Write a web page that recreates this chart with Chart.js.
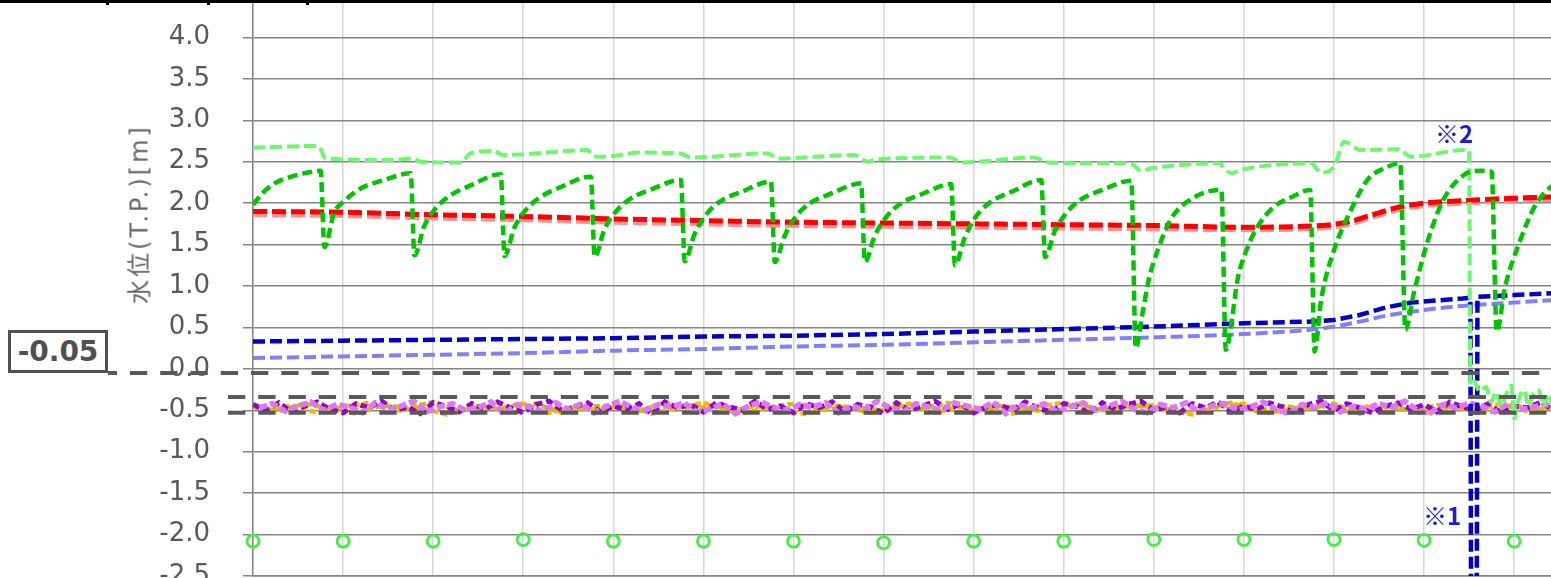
<!DOCTYPE html>
<html><head><meta charset="utf-8">
<script src="https://cdn.jsdelivr.net/npm/chart.js"></script>
<style>
html,body{margin:0;padding:0;background:#fff;overflow:hidden;width:1551px;height:578px;}
#wrap{position:relative;width:1551px;height:578px;overflow:hidden;}
#c{position:absolute;left:0;top:-24px;}
.topbar{position:absolute;left:0;top:0;width:1551px;height:3px;background:#000;z-index:3}
.tick{position:absolute;top:0;width:3px;height:5px;background:#000;z-index:3}
#ytitle{position:absolute;left:137px;top:214px;transform:translate(-50%,-50%) rotate(-90deg);font:24px "DejaVu Sans","Noto Sans CJK JP";letter-spacing:3px;color:#666;white-space:nowrap;z-index:2}
#refbox{position:absolute;left:8px;top:330px;width:94px;height:37px;border:3px solid #505050;font:bold 28px "DejaVu Sans";color:#505050;text-align:center;line-height:37px;background:#fff;z-index:2}
.note{position:absolute;font:bold 24px "Noto Sans CJK JP";line-height:1;color:#1a1ae6;z-index:2}
</style></head>
<body>
<div id="wrap">
<canvas id="c" width="1613" height="640"></canvas>
<div class="topbar"></div><div class="tick" style="left:106px"></div><div class="tick" style="left:207px"></div><div class="tick" style="left:306px"></div>
<div id="ytitle">水位(T.P.)[m]</div>
<div id="refbox">-0.05</div>
<div class="note" style="left:1435px;top:121px">※2</div>
<div class="note" style="left:1423px;top:503px">※1</div>
</div>
<script>
// ---- data (x in days, gridline every 7 days) ----
const greenDays = [0,0.8,1.8,3.0,4.3,5.25,
 5.55,6.3,7.2,8.4,10.2,12.25,
 12.55,13.3,14.1,15.2,17.0,19.25,
 19.55,20.3,21.1,22.2,24.0,26.25,
 26.55,27.3,28.1,29.2,31.0,33.25,
 33.55,34.3,35.1,36.2,38.0,40.25,
 40.55,41.3,42.1,43.2,45.0,47.25,
 47.55,48.3,49.1,50.2,52.0,54.25,
 54.55,55.3,56.1,57.2,59.0,61.25,
 61.55,62.3,63.1,64.2,66.0,68.25,
 68.6,69.1,69.6,70.3,71.3,72.8,75.25,
 75.6,76.1,76.5,77.1,78.0,79.3,80.8,82.15,
 82.5,83.0,84.0,85.3,86.6,87.9,89.15,
 89.55,90.2,91.3,92.5,94.1,95.4,96.25,
 96.65,97.3,98.4,99.6,100.9,102.0];
const greenLevel = [1.98,2.13,2.25,2.32,2.37,2.39,
 1.47,1.88,2.04,2.18,2.28,2.36,
 1.37,1.72,1.92,2.08,2.22,2.35,
 1.36,1.70,1.90,2.06,2.20,2.32,
 1.35,1.68,1.88,2.04,2.17,2.28,
 1.30,1.62,1.84,2.01,2.14,2.26,
 1.29,1.60,1.82,1.99,2.12,2.24,
 1.29,1.60,1.81,1.98,2.11,2.23,
 1.25,1.58,1.82,2.00,2.14,2.28,
 1.35,1.66,1.86,2.03,2.16,2.27,
 0.25,0.65,1.07,1.43,1.80,2.04,2.16,
 0.23,0.63,1.07,1.39,1.70,1.95,2.08,2.16,
 0.21,0.83,1.43,1.91,2.28,2.42,2.48,
 0.47,0.91,1.55,2.04,2.34,2.39,2.38,
 0.45,0.99,1.52,1.96,2.20,2.27];

const lightGreenDays = [0,4.8,5.2,5.6,10.7,12.4,13.0,16.1,16.9,18.7,19.4,21.0,26.0,26.4,27.2,30.1,33.2,34.0,40.0,40.8,46.7,47.8,48.5,54.2,55.0,60.7,61.8,65.9,68.2,69.0,69.8,75.0,76.0,77.0,82.2,83.0,84.0,84.8,86.1,89.0,90.0,94.1,94.5,
 94.6,94.9,95.3,95.8,96.2,96.6,97.0,97.4,97.8,98.0,98.4,98.8,99.1,99.5,99.9,100.3,100.6,101.0,101.7];
const lightGreenLevel = [2.67,2.69,2.67,2.54,2.52,2.54,2.50,2.49,2.60,2.63,2.58,2.59,2.64,2.57,2.56,2.61,2.60,2.55,2.60,2.54,2.58,2.50,2.53,2.55,2.49,2.55,2.49,2.48,2.48,2.39,2.42,2.48,2.36,2.41,2.48,2.37,2.44,2.74,2.64,2.65,2.56,2.64,2.63,
 -0.20,-0.15,-0.27,-0.22,-0.40,-0.28,-0.45,-0.30,-0.20,-0.60,-0.35,-0.26,-0.45,-0.30,-0.26,-0.45,-0.30,-0.42,-0.35];

const redDays = [0,7,14,21,28,35,42,49,56,63,70,77,83,85,87,89,91,94,98,102];
const redLevel = [1.90,1.89,1.86,1.84,1.81,1.79,1.77,1.76,1.75,1.74,1.73,1.71,1.73,1.77,1.86,1.95,2.00,2.03,2.06,2.08];
const pinkLevel = [1.86,1.85,1.82,1.80,1.77,1.75,1.73,1.72,1.71,1.70,1.69,1.68,1.70,1.74,1.83,1.92,1.97,2.00,2.03,2.05];

const blueDays = [0,7,14,21,28,35,42,49,56,63,70,77,82,84,86,88,90,94,94.6,94.7,95.05,95.15,98,102];
const blueLevel = [0.33,0.34,0.35,0.36,0.37,0.39,0.40,0.42,0.45,0.48,0.51,0.55,0.57,0.59,0.65,0.74,0.80,0.85,0.86,-6,-6,0.87,0.89,0.92];

const lightBlueDays = [0,7,14,21,28,35,42,49,56,63,70,77,82,84,86,88,91,94,98,102];
const lightBlueLevel = [0.13,0.15,0.17,0.19,0.22,0.24,0.27,0.29,0.32,0.35,0.38,0.42,0.47,0.51,0.57,0.64,0.71,0.76,0.80,0.84];

const circleDays = [0,7,14,21,28,35,42,49,56,63,70,77,84,91,98];
const circleLevel = [-2.08,-2.08,-2.08,-2.06,-2.08,-2.08,-2.08,-2.10,-2.08,-2.08,-2.06,-2.06,-2.06,-2.07,-2.08];

const purpleLevel = [-0.43,-0.50,-0.41,-0.52,-0.45,-0.40,-0.49,-0.53,-0.42,-0.47,
 -0.39,-0.50,-0.46,-0.54,-0.41,-0.45,-0.52,-0.42,-0.49,-0.40,
 -0.47,-0.53,-0.43,-0.39,-0.50,-0.46,-0.41,-0.52,-0.45,-0.49,
 -0.42,-0.54,-0.40,-0.47,-0.43,-0.52,-0.41,-0.46,-0.50,-0.39,
 -0.49,-0.45,-0.53,-0.42,-0.47,-0.40,-0.52,-0.43,-0.46,-0.54,
 -0.41,-0.50,-0.45,-0.39,-0.49,-0.42,-0.53,-0.46,-0.43,-0.50,
 -0.40,-0.47,-0.52,-0.42,-0.45,-0.54,-0.41,-0.49,-0.43,-0.39,
 -0.50,-0.46,-0.53,-0.42,-0.47,-0.40,-0.52,-0.45,-0.49,-0.41,
 -0.46,-0.54,-0.43,-0.39,-0.50,-0.42,-0.47,-0.53,-0.45,-0.41,
 -0.49,-0.43,-0.52,-0.40,-0.46,-0.50,-0.42,-0.54,-0.45,-0.47,
 -0.41,-0.49];
const violetLevel = [-0.47,-0.42,-0.51,-0.45,-0.40,-0.50,-0.43,-0.46,-0.53,-0.41,
 -0.49,-0.45,-0.39,-0.52,-0.46,-0.42,-0.50,-0.47,-0.40,-0.54,
 -0.43,-0.46,-0.52,-0.41,-0.49,-0.42,-0.53,-0.45,-0.39,-0.47,
 -0.50,-0.43,-0.46,-0.41,-0.52,-0.49,-0.42,-0.54,-0.45,-0.40,
 -0.47,-0.50,-0.43,-0.46,-0.41,-0.53,-0.45,-0.49,-0.39,-0.47,
 -0.52,-0.42,-0.46,-0.50,-0.41,-0.45,-0.49,-0.40,-0.54,-0.43,
 -0.47,-0.42,-0.52,-0.46,-0.41,-0.50,-0.45,-0.39,-0.49,-0.53,
 -0.43,-0.47,-0.41,-0.52,-0.45,-0.42,-0.50,-0.46,-0.40,-0.49,
 -0.54,-0.43,-0.47,-0.41,-0.52,-0.45,-0.49,-0.42,-0.46,-0.39,
 -0.50,-0.53,-0.43,-0.47,-0.41,-0.45,-0.52,-0.42,-0.49,-0.46,
 -0.43,-0.50];
const yellowLevel = [-0.46,-0.51,-0.42,-0.48,-0.54,-0.44,-0.47,-0.40,-0.51,-0.45,
 -0.50,-0.42,-0.53,-0.46,-0.44,-0.51,-0.41,-0.48,-0.45,-0.54,
 -0.47,-0.42,-0.50,-0.46,-0.53,-0.44,-0.48,-0.41,-0.51,-0.45,
 -0.47,-0.54,-0.42,-0.50,-0.46,-0.44,-0.53,-0.47,-0.41,-0.51,
 -0.45,-0.48,-0.42,-0.54,-0.46,-0.50,-0.44,-0.47,-0.53,-0.45,
 -0.48];
const orangeLevel = [-0.50,-0.44,-0.53,-0.46,-0.41,-0.51,-0.47,-0.55,-0.45,-0.48,
 -0.42,-0.53,-0.46,-0.50,-0.44,-0.54,-0.47,-0.41,-0.51,-0.45,
 -0.48,-0.55,-0.44,-0.47,-0.50,-0.42,-0.53,-0.46,-0.48,-0.54,
 -0.45,-0.41,-0.51,-0.47,-0.44,-0.50,-0.55,-0.46,-0.42,-0.53,
 -0.48,-0.45,-0.51,-0.44,-0.47,-0.54,-0.46,-0.50,-0.42,-0.51,
 -0.47];

const refLevels = [-0.05, -0.34, -0.53];
const yTicksMin = -2.5, yTicksMax = 4.5, yTickStep = 0.5;

// ---- build ----
const pts = (xs, ys) => ys.map((v, i) => ({x: xs[i], y: v}));
const sampled = (ys, start, step) => ys.map((v, i) => ({x: start + i * step, y: v}));

function lineDs(data, color, width, dash, order, extra) {
  return Object.assign({data, borderColor: color, borderWidth: width, borderDash: dash,
    pointRadius: 0, fill: false, cubicInterpolationMode: 'monotone', order, borderCapStyle: 'butt'}, extra || {});
}

const refLinesPlugin = {
  id: 'refLines',
  afterDatasetsDraw(chart) {
    const ctx = chart.ctx, ys = chart.scales.y;
    const startX = [108, 228, 228], offs = [8.3, 0, 0];
    ctx.save();
    ctx.strokeStyle = '#595959';
    ctx.lineWidth = 4;
    ctx.setLineDash([17.3, 12.96]);
    refLevels.forEach((lv, i) => {
      const py = ys.getPixelForValue(lv);
      ctx.lineDashOffset = offs[i];
      ctx.beginPath(); ctx.moveTo(startX[i], py); ctx.lineTo(chart.width, py); ctx.stroke();
    });
    ctx.restore();
  }
};

new Chart(document.getElementById('c'), {
  type: 'line',
  data: { datasets: [
    lineDs(pts(circleDays, circleLevel), '#44ee44', 0, [], 0, {showLine: false, pointRadius: 6, pointBorderWidth: 2.8, pointBorderColor: '#44ee44', pointBackgroundColor: 'rgba(255,255,255,0)', clip: false}),
    lineDs(pts(greenDays, greenLevel), '#00c400', 4.5, [10, 5], 1),
    lineDs(pts(lightGreenDays, lightGreenLevel), '#6cfa6c', 4, [12, 5], 2),
    lineDs(pts(blueDays, blueLevel), '#0000c8', 4.5, [12, 5], 3, {cubicInterpolationMode: 'default', tension: 0}),
    lineDs(pts(redDays, redLevel), '#ff0000', 5, [14, 5], 4),
    lineDs(pts(lightBlueDays, lightBlueLevel), '#8080ff', 4, [12, 5], 5),
    lineDs(pts(redDays, pinkLevel), '#ff9090', 5, [14, 5], 6),
    lineDs(sampled(violetLevel, 0.5, 1), '#dc78f4', 5.5, [8, 3], 7, {cubicInterpolationMode: 'default', tension: 0}),
    lineDs(sampled(purpleLevel, 0, 1), '#9400cc', 5, [7, 4], 8, {cubicInterpolationMode: 'default', tension: 0}),
    lineDs(sampled(yellowLevel, 0, 2), '#c8c000', 4.5, [6, 3], 9, {cubicInterpolationMode: 'default', tension: 0}),
    lineDs(sampled(orangeLevel, 1, 2), '#ffb400', 4.5, [6, 3], 10, {cubicInterpolationMode: 'default', tension: 0})
  ]},
  options: {
    responsive: false, animation: false, devicePixelRatio: 1,
    layout: {padding: {top: 20, left: 0, right: 0, bottom: 0}},
    plugins: {legend: {display: false}, tooltip: {enabled: false}},
    scales: {
      x: {type: 'linear', min: 0, max: 105,
        ticks: {display: false, stepSize: 7},
        grid: {color: '#d6d6d6', lineWidth: 1.5, drawTicks: false, tickLength: 0},
        border: {display: true, color: '#858585', width: 1.5},
        afterFit(s) { s.height = 40; s.paddingLeft = 0; s.paddingRight = 0; s.paddingTop = 0; s.paddingBottom = 0; }},
      y: {type: 'linear', min: yTicksMin, max: yTicksMax,
        ticks: {stepSize: yTickStep, padding: 33, color: '#595959', font: {family: 'DejaVu Sans', size: 26},
          callback: (v) => v > 4.01 ? '' : Number(v).toFixed(1)},
        grid: {color: '#858585', lineWidth: 1.5, tickLength: 10},
        border: {color: '#858585', width: 1.5},
        afterFit(s) { s.width = 253; s.paddingTop = 0; s.paddingBottom = 0; s.paddingLeft = 0; s.paddingRight = 0; }}
    }
  },
  plugins: [refLinesPlugin]
});
</script>
</body></html>
